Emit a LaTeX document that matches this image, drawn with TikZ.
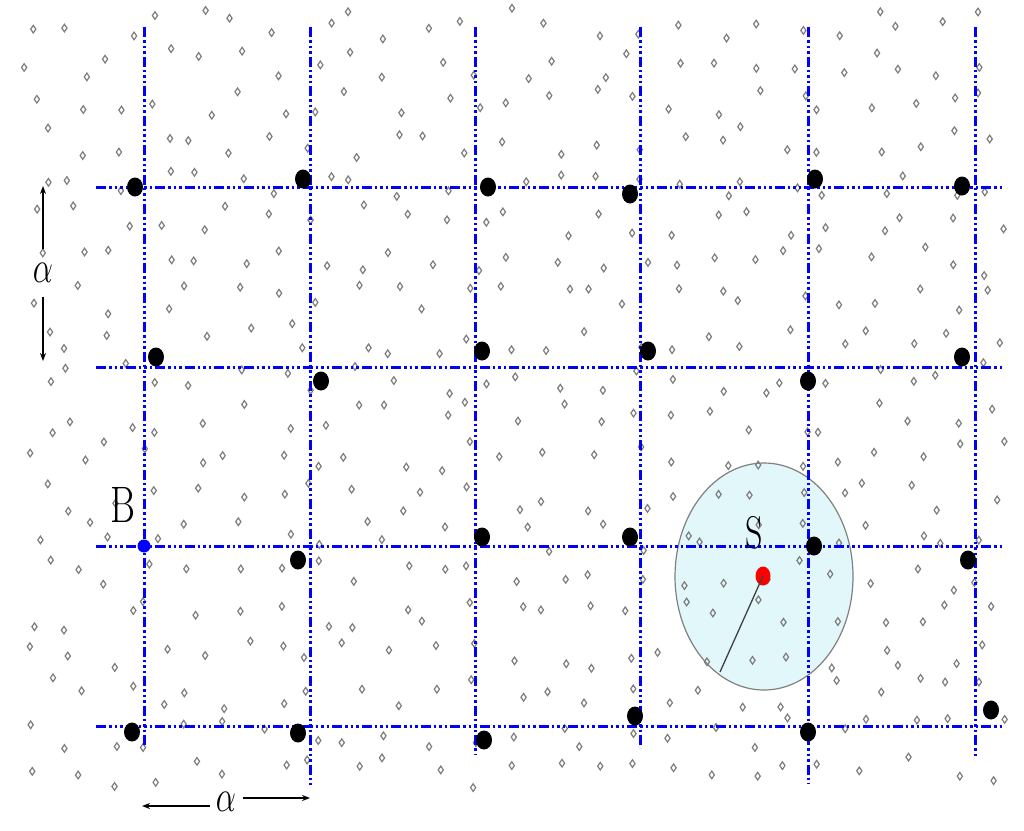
\RequirePackage{fix-cm}
\documentclass[tikz,border=0pt]{standalone}
\usepackage{graphicx}
\usetikzlibrary{shapes.geometric,arrows.meta}
\definecolor{gridblue}{RGB}{0,0,255}
\definecolor{ellfill}{RGB}{226,247,250}
\definecolor{diagray}{RGB}{125,125,125}
\tikzset{
  gridline/.style={gridblue,line width=3pt,
    dash pattern=on 10pt off 3pt on 2.5pt off 3pt on 2.5pt off 3pt on 2.5pt off 3pt},
  bdot/.style={ellipse,fill=black,draw=none,minimum width=16pt,minimum height=19pt,inner sep=0pt},
  reddot/.style={ellipse,fill=red,draw=none,minimum width=15pt,minimum height=19pt,inner sep=0pt},
  bluedot/.style={circle,fill=blue,draw=none,minimum size=13pt,inner sep=0pt},
  lbl/.style={inner sep=0pt,text=black},
  dimarrow/.style={line width=2.5pt,-{Stealth[length=8pt,width=6pt]}},
  dia/.style={draw=diagray,line width=1.2pt},
}
\begin{document}
\begin{tikzpicture}[x=1pt,y=-1pt]
\useasboundingbox (0,0) rectangle (1024,830);
% region S
\draw[fill=ellfill,draw=gray,line width=1.2pt] (764,576.5) ellipse [x radius=89,y radius=113.5];
% scattered points (jittered)
\pgfmathsetseed{4321}
\foreach \i in {0,...,24}{
  \foreach \j in {0,...,19}{
    \pgfmathsetmacro{\rx}{20+(\i+0.1+0.8*rnd)*39.6}
    \pgfmathsetmacro{\ry}{4+(\j+0.1+0.8*rnd)*39.4}
    \draw[dia] (\rx,\ry) +(0,-3.8) -- +(2.6,0) -- +(0,3.8) -- +(-2.6,0) -- cycle;
  }
}
% grid
\foreach \y in {187,367,546,726}{
  \draw[gridline] (96,\y) -- (1003,\y);
}
\draw[gridline] (144,27) -- (144,747);
\draw[gridline] (310,27) -- (310,785);
\draw[gridline] (475,27) -- (475,755);
\draw[gridline] (640,27) -- (640,748);
\draw[gridline] (808,27) -- (808,784);
\draw[gridline] (975,27) -- (975,756);
% black points
\node[bdot] (d11) at (135,187) {};
\node[bdot] (d12) at (303,179) {};
\node[bdot] (d13) at (488,187) {};
\node[bdot] (d14) at (630,194) {};
\node[bdot] (d15) at (815,179) {};
\node[bdot] (d16) at (962,186) {};
\node[bdot] (d21) at (156,357) {};
\node[bdot] (d22) at (321,381) {};
\node[bdot] (d23) at (482,351) {};
\node[bdot] (d24) at (648,351) {};
\node[bdot] (d25) at (808,381) {};
\node[bdot] (d26) at (962,357) {};
\node[bdot] (d32) at (298,560) {};
\node[bdot] (d33) at (482,537) {};
\node[bdot] (d34) at (630,537) {};
\node[bdot] (d35) at (814,546) {};
\node[bdot] (d36) at (968,560) {};
\node[bdot] (d41) at (132,732) {};
\node[bdot] (d42) at (298,733) {};
\node[bdot] (d43) at (484,740) {};
\node[bdot] (d44) at (635,716) {};
\node[bdot] (d45) at (808,732) {};
\node[bdot] (d46) at (991,710) {};
% B
\node[bluedot] (b) at (144,546) {};
\node[lbl] (blab) at (123,505) {\scalebox{1}[1.35]{\fontsize{38}{38}\selectfont B}};
% S
\node[reddot] (s) at (763,576) {};
\node[lbl] (slab) at (754,533) {\scalebox{1}[1.35]{\fontsize{34}{34}\selectfont S}};
\coordinate (redge) at (720,672);
\draw[black!75,line width=1.3pt] (s.center) -- (redge);
% alpha, vertical
\node[lbl] (av) at (43,273) {\scalebox{1}[1.4]{\fontsize{32}{32}\selectfont$\alpha$}};
\coordinate (avtop) at (43,186);
\coordinate (avbot) at (43,361);
\draw[dimarrow] (43,249) -- (avtop);
\draw[dimarrow] (43,297) -- (avbot);
% alpha, horizontal
\node[lbl] (ah) at (226,802) {\scalebox{1}[1.4]{\fontsize{32}{32}\selectfont$\alpha$}};
\coordinate (ahl) at (142,806);
\coordinate (ahr) at (310,798);
\draw[dimarrow] (210,806) -- (ahl);
\draw[dimarrow] (243,798) -- (ahr);
\end{tikzpicture}
\end{document}
